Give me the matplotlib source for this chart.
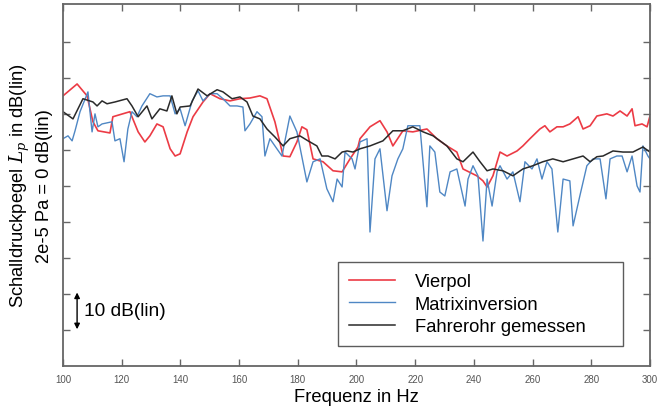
import matplotlib
matplotlib.use("Agg")
import matplotlib.pyplot as plt
import numpy as np

plt.rcParams['font.family'] = ['Liberation Sans', 'DejaVu Sans']
plt.rcParams['mathtext.fontset'] = 'dejavuserif'

############ Vierpol (rot) ##############
f_vierpol = [100, 104.8, 108.2, 110.2, 111.9, 116.0, 117.0, 122.8, 125.6, 127.9,
             129.6, 132.0, 134.1, 136.5, 138.2, 139.9, 142.3, 144.3, 147.7, 150.1,
             153.5, 156.9, 160.3, 163.7, 167.1, 169.5, 172.2, 175.0, 177.3, 179.7,
             181.4, 183.1, 185.2, 188.6, 192.0, 195.1, 197.8, 200.5, 201.2, 204.6,
             208.0, 210.4, 212.4, 215.8, 219.2, 224.0, 227.4, 230.8, 234.2, 236.3,
             241.0, 243.1, 244.5, 246.5, 248.9, 251.3, 254.7, 256.7, 259.1, 262.5,
             264.2, 265.9, 268.3, 270.4, 272.7, 275.5, 277.2, 279.6, 281.9, 285.3,
             287.4, 289.8, 292.2, 293.9, 294.9, 297.3, 299.0, 300.0]
L_vierpol = [75.0, 78.3, 75.0, 67.8, 65.3, 64.7, 69.2, 70.6, 65.0, 62.2,
             63.9, 67.2, 66.4, 60.3, 58.3, 58.9, 65.0, 69.2, 73.3, 75.6,
             74.2, 73.6, 74.2, 74.4, 75.0, 74.2, 67.8, 58.3, 58.1, 62.2,
             66.4, 65.6, 57.5, 56.7, 54.2, 53.9, 57.5, 60.8, 63.1, 66.4,
             68.1, 65.0, 61.1, 65.3, 65.0, 65.8, 63.1, 61.1, 59.4, 54.7,
             52.8, 51.4, 49.7, 52.8, 59.4, 58.3, 59.7, 61.1, 63.1, 65.8,
             66.7, 65.0, 66.4, 66.4, 67.2, 69.2, 65.8, 66.7, 69.4, 70.0,
             69.4, 70.8, 69.4, 71.4, 66.7, 67.2, 66.4, 69.4]

############ Matrixinversion (blau) ##############
f_matrix = [100, 101.7, 103.1, 104.1, 105.8, 108.5, 109.9, 110.9, 111.9, 113.3,
            115.0, 116.7, 117.7, 119.4, 120.8, 122.1, 123.5, 125.2, 126.9, 129.6,
            132.0, 134.1, 136.5, 138.2, 139.9, 141.6, 144.0, 146.0, 147.7, 150.1,
            152.5, 154.5, 156.9, 159.3, 161.3, 162.0, 163.7, 166.1, 167.8, 168.8,
            170.5, 172.2, 174.6, 177.3, 179.7, 183.1, 185.2, 187.6, 189.9, 192.0,
            193.4, 195.1, 196.1, 198.5, 199.5, 201.2, 203.6, 204.6, 206.3, 208.0,
            210.4, 212.1, 214.1, 215.8, 217.5, 219.2, 221.6, 224.0, 225.0, 226.7,
            228.4, 230.1, 231.9, 234.2, 237.0, 238.0, 239.7, 241.4, 243.1, 244.5,
            246.2, 247.9, 248.9, 251.3, 253.3, 255.7, 257.4, 259.8, 261.5, 263.2,
            264.9, 266.6, 268.6, 270.4, 272.7, 273.8, 276.1, 278.5, 280.6, 283.0,
            285.0, 286.4, 288.7, 290.5, 292.2, 293.9, 295.6, 296.6, 297.6, 299.3,
            300.0]
L_matrix = [63.1, 63.9, 62.5, 65.3, 70.6, 76.1, 65.0, 70.0, 66.4, 67.2,
            67.5, 67.8, 62.5, 63.1, 56.7, 65.8, 70.6, 69.2, 72.2, 75.6,
            74.7, 75.0, 75.0, 70.0, 71.4, 66.7, 73.6, 76.4, 73.6, 75.6,
            75.6, 74.2, 72.2, 72.2, 71.9, 65.3, 67.2, 70.6, 69.2, 58.3,
            63.1, 61.1, 58.3, 69.4, 65.0, 51.1, 56.7, 57.5, 49.2, 45.6,
            51.9, 49.7, 59.4, 57.5, 54.7, 62.2, 63.1, 37.2, 57.5, 60.3,
            43.1, 52.8, 57.5, 60.3, 66.7, 66.7, 66.7, 44.2, 61.1, 59.4,
            48.3, 47.2, 53.9, 54.7, 44.4, 51.9, 55.6, 52.8, 34.7, 51.9,
            44.4, 53.9, 55.6, 51.9, 53.9, 45.6, 56.7, 54.7, 57.5, 51.9,
            56.7, 54.7, 37.2, 51.9, 51.4, 38.9, 47.2, 55.6, 57.5, 57.5,
            46.4, 57.5, 58.3, 58.3, 53.9, 58.3, 50.0, 48.3, 61.1, 58.3,
            57.5]

############ Fahrerohr gemessen (schwarz) ##############
f_gemessen = [100, 103.4, 106.8, 110.2, 111.6, 113.3, 115.0, 117.7, 121.8, 123.5,
              125.6, 128.6, 130.3, 133.0, 135.4, 137.1, 138.8, 139.9, 143.3, 146.0,
              149.1, 152.5, 154.5, 157.6, 160.3, 162.7, 164.7, 167.1, 169.5, 172.2,
              175.0, 177.3, 180.7, 183.5, 186.5, 188.2, 190.3, 192.7, 195.1, 196.8,
              198.8, 201.2, 204.6, 209.0, 212.4, 215.8, 219.2, 222.7, 226.1, 230.8,
              234.2, 236.3, 239.7, 242.1, 244.5, 246.5, 249.9, 253.3, 256.7, 260.1,
              263.5, 266.9, 270.4, 273.8, 277.2, 279.6, 281.9, 284.0, 287.4, 290.8,
              294.2, 297.6, 300.0]
L_gemessen = [70.6, 68.6, 74.2, 73.3, 72.2, 73.6, 72.8, 73.3, 74.2, 72.2,
              69.2, 72.2, 68.6, 71.4, 70.8, 75.0, 70.0, 71.9, 72.2, 76.9,
              75.0, 76.7, 76.1, 74.2, 74.7, 73.3, 69.4, 68.6, 65.8, 63.6,
              61.1, 63.1, 63.9, 62.5, 61.1, 58.3, 58.3, 57.5, 59.4, 59.7,
              59.4, 60.3, 61.1, 62.5, 65.3, 65.3, 66.4, 65.0, 63.9, 61.1,
              57.5, 56.7, 59.4, 56.7, 54.2, 54.7, 54.2, 52.8, 54.7, 55.6,
              56.7, 57.5, 56.7, 57.5, 58.3, 56.7, 58.1, 58.3, 59.7, 59.4,
              59.4, 60.8, 59.4]

x_ticks = [100, 120, 140, 160, 180, 200, 220, 240, 260, 280, 300]
y_ticks = [10, 20, 30, 40, 50, 60, 70, 80, 90]

fs = 13.2

fig = plt.figure(figsize=(6.57, 4.10), dpi=100)
ax = fig.add_axes([0.0959, 0.1049, 0.8934, 0.8829])

ax.plot(f_vierpol, L_vierpol, color="#ec3b45", lw=1.2, label="Vierpol")
ax.plot(f_matrix, L_matrix, color="#4f87c4", lw=1.0, label="Matrixinversion")
ax.plot(f_gemessen, L_gemessen, color="#2a2a2a", lw=1.1, label="Fahrerohr gemessen")

ax.set_xlim(100, 300)
ax.set_ylim(0, 100.5)
ax.set_xticks(x_ticks)
ax.set_yticks(y_ticks)
ax.set_yticklabels([])
ax.tick_params(direction="in", length=5, width=1, color="#666666",
               top=True, right=True, labelsize=7, labelcolor="#555555", pad=6)
for s in ax.spines.values():
    s.set_color("#666666")
    s.set_linewidth(1.3)

ax.set_xlabel("Frequenz in Hz", fontsize=fs, labelpad=3)
ax.set_ylabel("Schalldruckpegel $L_p$ in dB(lin)\n2e-5 Pa = 0 dB(lin)",
              fontsize=fs, labelpad=1, linespacing=1.3)

# Skalenpfeil 10 dB
ax.annotate("", xy=(104.8, 10.2), xytext=(104.8, 20.4),
            arrowprops=dict(arrowstyle="<|-|>", color="black", lw=1.0,
                            mutation_scale=8, shrinkA=0, shrinkB=0))
ax.text(107.0, 15.3, "10 dB(lin)", fontsize=13.8, va="center", ha="left")

leg = ax.legend(loc="lower left", bbox_to_anchor=(0.4685, 0.055, 0.4855, 0.24),
                mode="expand", fontsize=fs, frameon=True, fancybox=False,
                handlelength=2.5, handletextpad=1.1, borderpad=0.6,
                labelspacing=0.3, borderaxespad=0)
leg.get_frame().set_edgecolor("#333333")
leg.get_frame().set_linewidth(1.0)

fig.savefig("out.png", dpi=100)
